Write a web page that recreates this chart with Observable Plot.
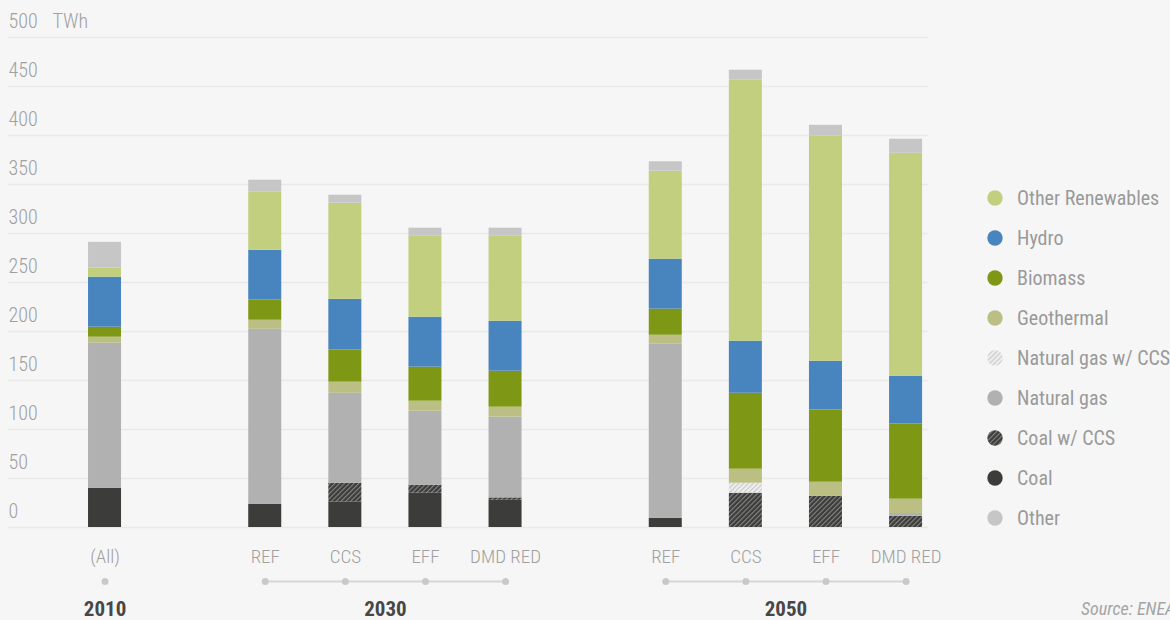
<!DOCTYPE html>
<html>
<head>
<meta charset="utf-8">
<script src="https://cdn.jsdelivr.net/npm/d3@7"></script>
<script src="https://cdn.jsdelivr.net/npm/@observablehq/plot@0.6"></script>
<style>
  html, body { margin: 0; padding: 0; background: #f6f6f6; }
  #wrap { position: relative; width: 1170px; height: 620px; overflow: hidden; background: #f6f6f6;
    font-family: "Roboto Condensed", "Liberation Sans Narrow", "Arial Narrow", "DejaVu Sans Condensed", sans-serif; }
  #legend { position: absolute; left: 985px; top: 178px; }
  .item { height: 40px; display: flex; align-items: center; font-size: 20px; color: #9a9a9a; white-space: nowrap; }
  .item svg { margin-right: 12px; }
  #source { position: absolute; left: 1081px; top: 598px; font-size: 18px; font-style: italic; color: #a5a5a5; white-space: nowrap; }
</style>
</head>
<body>
<div id="wrap">
  <div id="chart"></div>
  <div id="legend"></div>
  <div id="source">Source: ENEA</div>
</div>
<script>
// ---- data ----
const scenarios = ["(All)", "REF", "CCS", "EFF", "DMD RED", "REF", "CCS", "EFF", "DMD RED"];
const years     = ["2010", "2030", "2030", "2030", "2030", "2050", "2050", "2050", "2050"];
const slots     = [0, 2, 3, 4, 5, 7, 8, 9, 10];

// series, bottom to top (TWh)
const seriesNames = ["Coal", "Coal w/ CCS", "Natural gas", "Natural gas w/ CCS", "Geothermal", "Biomass", "Hydro", "Other Renewables", "Other"];
const coal            = [40.1, 23.8, 26.1, 35.0, 27.8, 9.5, 0, 0, 0];
const coalCCS         = [0, 0, 19.1, 8.2, 2.4, 0, 35.0, 31.9, 11.5];
const naturalGas      = [148.0, 178.5, 91.8, 75.5, 82.4, 177.5, 0, 0, 2.8];
const naturalGasCCS   = [0, 0, 0, 0, 0, 0, 10.2, 0, 0];
const geothermal      = [6.1, 9.2, 11.3, 10.2, 10.2, 9.2, 14.3, 14.3, 14.6];
const biomass         = [10.2, 20.8, 32.9, 34.7, 36.7, 26.6, 77.5, 73.8, 76.8];
const hydro           = [51.0, 50.6, 51.7, 51.0, 51.0, 51.0, 53.1, 49.7, 48.7];
const otherRenewables = [9.5, 59.2, 98.0, 82.6, 86.7, 89.8, 266.3, 229.6, 227.5];
const other           = [26.1, 12.3, 8.2, 8.2, 8.2, 9.6, 10.2, 11.1, 14.3];
const seriesValues = [coal, coalCCS, naturalGas, naturalGasCCS, geothermal, biomass, hydro, otherRenewables, other];

const seriesFills = ["#3c3c3a", "url(#hatchDark)", "#b1b1b1", "url(#hatchLight)", "#bbbf83", "#7e9815", "#4884bd", "#c2cf7e", "#c6c6c6"];
const yTicks = [0, 50, 100, 150, 200, 250, 300, 350, 400, 450, 500];
const legendOrder = ["Other Renewables", "Hydro", "Biomass", "Geothermal", "Natural gas w/ CCS", "Natural gas", "Coal w/ CCS", "Coal", "Other"];

// ---- derived tables ----
const rows = [];
seriesNames.forEach((s, si) => {
  seriesValues[si].forEach((v, i) => {
    if (v > 0) rows.push({series: s, slot: slots[i], value: v});
  });
});
const cats = scenarios.map((s, i) => ({label: s, slot: slots[i], year: years[i]}));
const groups = d3.groups(cats, d => d.year).map(([year, g]) => ({
  year, start: d3.min(g, d => d.slot), end: d3.max(g, d => d.slot), mid: (d3.min(g, d => d.slot) + d3.max(g, d => d.slot)) / 2
}));
const half = 0.206;

const chart = Plot.plot({
  width: 1170,
  height: 620,
  marginLeft: 8,
  marginRight: 242,
  marginTop: 37,
  marginBottom: 93,
  style: {background: "#f6f6f6", fontFamily: "'Roboto Condensed', 'Liberation Sans Narrow', 'Arial Narrow', 'DejaVu Sans Condensed', sans-serif", overflow: "visible"},
  x: {domain: [-1.205, 10.28], axis: null},
  y: {domain: [0, 500], axis: null},
  color: {domain: seriesNames, range: seriesFills, type: "ordinal"},
  marks: [
    Plot.ruleY(yTicks, {stroke: "#e9e9e9", strokeWidth: 1.5}),
    Plot.text(yTicks, {y: d => d, frameAnchor: "left", textAnchor: "start", dy: -16, text: d => String(d), fill: "#a0a0a0", fontSize: 20, fontWeight: 300}),
    Plot.text(["TWh"], {y: () => 500, frameAnchor: "left", textAnchor: "start", dx: 44, dy: -16, text: d => d, fill: "#a0a0a0", fontSize: 20, fontWeight: 300}),
    Plot.rectY(rows, Plot.stackY({x1: d => d.slot - half, x2: d => d.slot + half, y: "value", fill: "series", order: null})),
    Plot.text(cats, {x: "slot", y: () => 0, dy: 29, text: "label", fill: "#a0a0a0", fontSize: 19, fontWeight: 300}),
    Plot.ruleY(groups.filter(g => g.end > g.start), {y: () => 0, x1: "start", x2: "end", dy: 54, stroke: "#d6d6d6", strokeWidth: 2}),
    Plot.dot(cats, {x: "slot", y: () => 0, dy: 54, r: 3.5, fill: "#c9c9c9", stroke: "none"}),
    Plot.text(groups, {x: "mid", y: () => 0, dy: 82, text: "year", fill: "#474747", fontSize: 21, fontWeight: "bold"})
  ]
});

// hatch patterns
const defs = d3.select(chart).insert("defs", ":first-child");
function hatch(id, bg, fg) {
  const p = defs.append("pattern").attr("id", id).attr("patternUnits", "userSpaceOnUse")
    .attr("width", 3.4).attr("height", 3.4).attr("patternTransform", "rotate(45)");
  p.append("rect").attr("width", 3.4).attr("height", 3.4).attr("fill", bg);
  p.append("rect").attr("width", 1.1).attr("height", 3.4).attr("fill", fg);
}
hatch("hatchDark", "#3c3c3a", "#858585");
hatch("hatchLight", "#eeeeee", "#c9c9c9");

document.getElementById("chart").appendChild(chart);

// legend
const legend = d3.select("#legend");
legendOrder.forEach(name => {
  const fill = seriesFills[seriesNames.indexOf(name)];
  const it = legend.append("div").attr("class", "item");
  const s = it.append("svg").attr("width", 20).attr("height", 20);
  s.append("circle").attr("cx", 10).attr("cy", 10).attr("r", 7.7).attr("fill", fill);
  it.append("span").text(name);
});
</script>
</body>
</html>
